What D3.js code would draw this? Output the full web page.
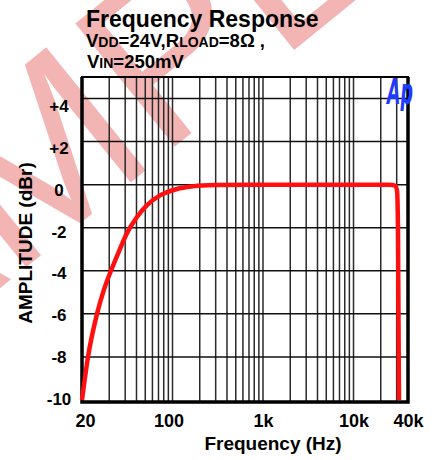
<!DOCTYPE html>
<html>
<head>
<meta charset="utf-8">
<script src="https://cdn.jsdelivr.net/npm/d3@7"></script>
<style>
  body { margin: 0; background: #fff; }
  svg { display: block; font-family: "Liberation Sans", Arial, sans-serif; }
</style>
</head>
<body>
<div id="plot"></div>
<script>
// curve values (Hz, dBr)
var freqs = [10, 11.65, 14.65, 17.1, 20.9, 25.6, 31.4, 40.5, 52.3, 72.8, 112, 168, 295, 718, 2000, 10000, 20000, 25000, 29000, 30300, 31000, 31800];
var dbr   = [-10, -8, -6, -5, -4, -3.1, -2.25, -1.5, -0.95, -0.5, -0.2, -0.08, -0.02, 0, 0, 0, 0, 0, -0.05, -0.3, -2, -10];

// grid and ticks
var gridFreqs = [20, 30, 40, 50, 60, 70, 80, 90, 100, 200, 300, 400, 500, 600, 700, 800, 900,
                 1000, 2000, 3000, 4000, 5000, 6000, 7000, 8000, 9000, 10000, 20000, 30000];
var gridDb = [-8, -6, -4, -2, 0, 2, 4];
var xTickValues = [10, 100, 1000, 10000, 40000];
var xTickLabels = ["20", "100", "1k", "10k", "40k"];
var yTickValues = [-10, -8, -6, -4, -2, 0, 2, 4];
var yTickLabels = ["-10", "-8", "-6", "-4", "-2", "0", "+2", "+4"];

var W = 440, H = 460;
var margin = {top: 77, right: 32, bottom: 58, left: 82};
var width = W - margin.left - margin.right;
var height = H - margin.top - margin.bottom;

var svg = d3.select("#plot").append("svg")
    .attr("width", W)
    .attr("height", H);

// watermark (behind everything)
svg.append("text")
    .attr("transform", "translate(-227,472) rotate(-39)")
    .attr("font-size", 230)
    .attr("fill", "rgba(222,40,40,0.35)")
    .text("SAMPLE");

// scales
var xScale = d3.scaleLog()
    .domain([10, 40000])
    .range([margin.left, margin.left + width]);

var yScale = d3.scaleLinear()
    .domain([-10, 5])
    .range([margin.top + height - 2, margin.top]);

// tick labels sit on their own slightly squeezed spacing
var yLabelScale = d3.scaleLinear()
    .domain([-10, 4])
    .range([399, 106]);

// grid
svg.append("g").selectAll("line")
    .data(gridFreqs)
    .enter().append("line")
    .attr("x1", function(d) { return xScale(d); })
    .attr("x2", function(d) { return xScale(d); })
    .attr("y1", margin.top)
    .attr("y2", margin.top + height)
    .attr("stroke", "#2a2a2a")
    .attr("stroke-width", 1.5);

svg.append("g").selectAll("line")
    .data(gridDb)
    .enter().append("line")
    .attr("x1", margin.left)
    .attr("x2", margin.left + width)
    .attr("y1", function(d) { return yScale(d); })
    .attr("y2", function(d) { return yScale(d); })
    .attr("stroke", "#111")
    .attr("stroke-width", 1.5);

// frame
svg.append("rect")
    .attr("x", margin.left)
    .attr("y", margin.top)
    .attr("width", width)
    .attr("height", height)
    .attr("fill", "none")
    .attr("stroke", "#000")
    .attr("stroke-width", 2);
svg.append("path")
    .attr("d", "M" + margin.left + "," + margin.top + "V" + (margin.top + height) + "H" + (margin.left + width) + "V" + margin.top)
    .attr("fill", "none")
    .attr("stroke", "#000")
    .attr("stroke-width", 3.5);

// axes
var xAxis = svg.append("g")
    .attr("transform", "translate(0," + (margin.top + height) + ")")
    .call(d3.axisBottom(xScale)
        .tickValues(xTickValues)
        .tickSize(0)
        .tickPadding(12)
        .tickFormat(function(d, i) { return xTickLabels[i]; }));
xAxis.select(".domain").remove();
xAxis.selectAll("text")
    .attr("font-size", 18)
    .attr("font-weight", "bold")
    .attr("fill", "#000")
    .attr("font-family", "Liberation Sans, Arial, sans-serif")
    .attr("dx", function(d, i) { return i == 0 ? 3 : (i == 1 ? -4 : 0); });

var yAxis = svg.append("g")
    .attr("transform", "translate(59,0)")
    .call(d3.axisLeft(yLabelScale)
        .tickValues(yTickValues)
        .tickSize(0)
        .tickPadding(0)
        .tickFormat(function(d, i) { return yTickLabels[i]; }));
yAxis.select(".domain").remove();
yAxis.selectAll("text")
    .attr("text-anchor", "middle")
    .attr("font-size", 17)
    .attr("font-weight", "bold")
    .attr("fill", "#000")
    .attr("font-family", "Liberation Sans, Arial, sans-serif");

// response curve
var line = d3.line()
    .x(function(d, i) { return xScale(freqs[i]); })
    .y(function(d) { return yScale(d); })
    .curve(d3.curveMonotoneX);

svg.append("path")
    .datum(dbr)
    .attr("d", line)
    .attr("fill", "none")
    .attr("stroke", "#ff1010")
    .attr("stroke-width", 4.5)
    .attr("stroke-linejoin", "round");

// titles
svg.append("text")
    .attr("x", 86)
    .attr("y", 27)
    .attr("font-size", 23)
    .attr("font-weight", "bold")
    .text("Frequency Response");

var sub1 = svg.append("text")
    .attr("x", 86)
    .attr("y", 47)
    .attr("font-weight", "bold");
[["V", 18.5], ["DD", 14], ["=24V,", 18.5], ["R", 18.5], ["LOAD", 14], ["=8\u03A9 ,", 18.5]].forEach(function(p) {
    sub1.append("tspan").attr("font-size", p[1]).text(p[0]);
});

var sub2 = svg.append("text")
    .attr("x", 87)
    .attr("y", 68)
    .attr("font-weight", "bold");
[["V", 18.5], ["IN", 14], ["=250mV", 18.5]].forEach(function(p) {
    sub2.append("tspan").attr("font-size", p[1]).text(p[0]);
});

svg.append("text")
    .attr("transform", "translate(32,243) rotate(-90)")
    .attr("text-anchor", "middle")
    .attr("font-size", 19)
    .attr("font-weight", "bold")
    .text("AMPLITUDE (dBr)");

svg.append("text")
    .attr("x", 273)
    .attr("y", 450)
    .attr("text-anchor", "middle")
    .attr("font-size", 19)
    .attr("font-weight", "bold")
    .text("Frequency (Hz)");

// Ap logo
svg.append("text")
    .attr("transform", "translate(387,104) scale(0.6,1.2)")
    .attr("font-size", 29)
    .attr("font-weight", "bold")
    .attr("font-style", "italic")
    .attr("font-family", "DejaVu Sans, sans-serif")
    .attr("fill", "#1f3bff")
    .text("Ap");
</script>
</body>
</html>
